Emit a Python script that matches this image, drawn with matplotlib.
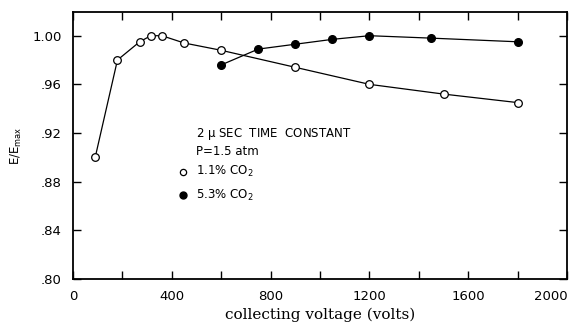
import matplotlib
matplotlib.use("Agg")
import matplotlib.pyplot as plt

# Data
open_x = [90, 180, 270, 315, 360, 450, 600, 900, 1200, 1500, 1800]
open_y = [0.900, 0.980, 0.995, 1.000, 1.000, 0.994, 0.988, 0.974, 0.960, 0.952, 0.945]
filled_x = [600, 750, 900, 1050, 1200, 1450, 1800]
filled_y = [0.976, 0.989, 0.993, 0.997, 1.000, 0.998, 0.995]

x_ticks = [0, 400, 800, 1200, 1600, 2000]
x_minor = [200, 600, 1000, 1400, 1800]
y_ticks = [0.80, 0.84, 0.88, 0.92, 0.96, 1.00]
y_tick_labels = [".80", ".84", ".88", ".92", ".96", "1.00"]

fig = plt.figure(figsize=(5.7, 3.24), dpi=100)
ax = fig.add_axes([0.128, 0.139, 0.867, 0.824])

ax.plot(open_x, open_y, color="black", lw=0.9, marker="o", ms=5.5,
        mfc="white", mec="black", mew=0.9, zorder=3)
ax.plot(filled_x, filled_y, color="black", lw=0.9, marker="o", ms=5.5,
        mfc="black", mec="black", zorder=3)

ax.set_xlim(0, 2000)
ax.set_ylim(0.80, 1.0195)
ax.set_xticks(x_ticks)
ax.set_xticks(x_minor, minor=True)
ax.set_yticks(y_ticks)
ax.set_yticklabels(y_tick_labels)

ax.tick_params(axis="both", which="both", direction="in", top=True, right=True,
               length=6, width=1.0, labelsize=9.5)
ax.tick_params(axis="x", which="major", pad=8)
ax.tick_params(axis="y", which="major", pad=8)
xl = ax.get_xticklabels()
xl[-1].set_horizontalalignment("right")
for s in ax.spines.values():
    s.set_linewidth(1.3)

ax.set_xlabel("collecting voltage (volts)", family="DejaVu Serif", fontsize=11, labelpad=3)
ax.set_ylabel(r"E/E$_{\mathrm{max}}$", fontsize=8.5, labelpad=6)

tx = 498
ax.text(tx, 0.919, r"2 $\mathrm{\mu}$ SEC  TIME  CONSTANT", fontsize=8.5, va="center")
ax.text(tx, 0.905, "P=1.5 atm", fontsize=8.5, va="center")
ax.plot([445], [0.888], marker="o", ms=4.5, mfc="white", mec="black", mew=0.9, ls="none")
ax.text(tx, 0.888, r"1.1% CO$_2$", fontsize=8.5, va="center")
ax.plot([445], [0.869], marker="o", ms=5, mfc="black", mec="black", ls="none")
ax.text(tx, 0.869, r"5.3% CO$_2$", fontsize=8.5, va="center")

fig.savefig("out.png", dpi=100)
